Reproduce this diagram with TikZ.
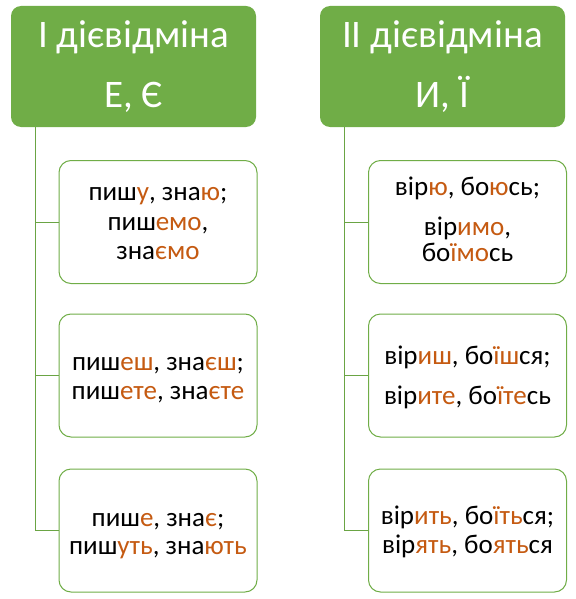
\documentclass[tikz,border=0pt]{standalone}
\usepackage{fontspec}
\setmainfont{Carlito}
\definecolor{hdr}{HTML}{70AD47}
\definecolor{edge}{HTML}{6AA444}
\definecolor{ending}{HTML}{C55A11}
\newcommand{\ek}[1]{\textcolor{ending}{#1}}
\begin{document}
\begin{tikzpicture}[x=1pt,y=-1pt,
  header/.style={draw=none, fill=hdr, rounded corners=10pt, inner sep=0pt, minimum width=245pt, minimum height=121pt},
  item/.style={draw=hdr, line width=1pt, fill=white, rounded corners=12pt, inner sep=0pt, minimum width=198pt, minimum height=123pt},
  htext/.style={anchor=base, font=\fontsize{39}{47}\selectfont, text=white, inner sep=0pt},
  itext/.style={anchor=base, font=\fontsize{27}{32}\selectfont, text=black, inner sep=0pt},
  conn/.style={draw=edge, line width=1pt}]
\useasboundingbox (0,0) rectangle (575,599);
% headers
\node[header] (h1) at (133.5,66.5) {};
\node[header] (h2) at (442.5,66.5) {};
\node[htext] (h1a) at (133.5,48) {І дієвідміна};
\node[htext] (h1b) at (133.5,108) {Е, Є};
\node[htext] (h2a) at (442.5,48) {ІІ дієвідміна};
\node[htext] (h2b) at (442.5,108) {И, Ї};
% connector tops
\coordinate (t1) at (35,127);
\coordinate (t2) at (344,127);
% items
\node[item] (a1) at (158,222) {};
\node[item] (a2) at (158,375.5) {};
\node[item] (a3) at (158,530.5) {};
\node[item] (b1) at (467.5,222) {};
\node[item] (b2) at (467.5,375.5) {};
\node[item] (b3) at (467.5,530.5) {};
% connectors
\draw[conn] (t1) -- (t1 |- a3.west) -- (a3.west);
\draw[conn] (t1 |- a1.west) -- (a1.west);
\draw[conn] (t1 |- a2.west) -- (a2.west);
\draw[conn] (t2) -- (t2 |- b3.west) -- (b3.west);
\draw[conn] (t2 |- b1.west) -- (b1.west);
\draw[conn] (t2 |- b2.west) -- (b2.west);
% left texts
\node[itext] (a1x) at (158,200.7) {пиш\ek{у}, зна\ek{ю};};
\node[itext] (a1y) at (158,230) {пиш\ek{емо},};
\node[itext] (a1z) at (158,259.3) {зна\ek{ємо}};
\node[itext] (a2x) at (158,370.7) {пиш\ek{еш}, зна\ek{єш};};
\node[itext] (a2y) at (158,399.3) {пиш\ek{ете}, зна\ek{єте}};
\node[itext] (a3x) at (158,526) {пиш\ek{е}, зна\ek{є};};
\node[itext] (a3y) at (158,554.3) {пиш\ek{уть}, зна\ek{ють}};
% right texts
\node[itext] (b1x) at (467.5,195) {вір\ek{ю}, бо\ek{ю}сь;};
\node[itext] (b1y) at (467.5,235) {вір\ek{имо},};
\node[itext] (b1z) at (467.5,261.7) {бо\ek{їмо}сь};
\node[itext] (b2x) at (467.5,364.3) {вір\ek{иш}, бо\ek{їш}ся;};
\node[itext] (b2y) at (467.5,404) {вір\ek{ите}, бо\ek{їте}сь};
\node[itext] (b3x) at (467.5,524.3) {вір\ek{ить}, бо\ek{їть}ся;};
\node[itext] (b3y) at (467.5,553.3) {вір\ek{ять}, бо\ek{ять}ся};
\end{tikzpicture}
\end{document}
